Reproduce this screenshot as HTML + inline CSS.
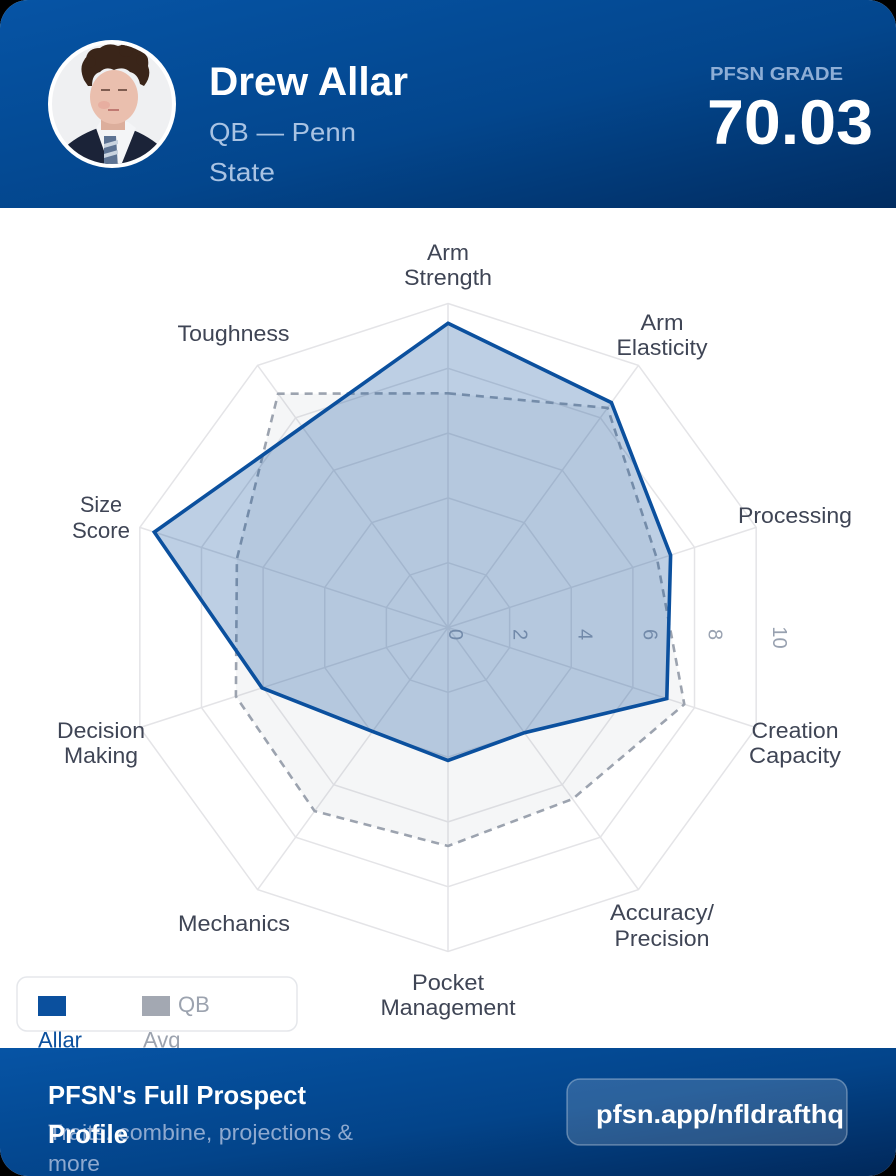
<!DOCTYPE html>
<html><head><meta charset="utf-8">
<style>
html,body{margin:0;padding:0;background:#000;}
body{width:896px;height:1176px;overflow:hidden;}
svg{display:block;}
text{font-family:"Liberation Sans",Arial,sans-serif;}
</style></head>
<body>
<svg width="896" height="1176" viewBox="0 0 896 1176" xmlns="http://www.w3.org/2000/svg">
<defs>
  <clipPath id="card"><rect x="0" y="0" width="896" height="1176" rx="28" ry="28"/></clipPath>
  <clipPath id="ph"><circle cx="112" cy="104" r="60"/></clipPath>
  <linearGradient id="hg" x1="0" y1="0" x2="1" y2="1">
    <stop offset="0" stop-color="#0654a5"/>
    <stop offset="0.55" stop-color="#03468d"/>
    <stop offset="1" stop-color="#012c60"/>
  </linearGradient>
  <linearGradient id="fg" x1="0" y1="0" x2="1" y2="1">
    <stop offset="0" stop-color="#0654a5"/>
    <stop offset="0.55" stop-color="#03448a"/>
    <stop offset="1" stop-color="#01285a"/>
  </linearGradient>
</defs>
<rect width="896" height="1176" fill="#000"/>
<g clip-path="url(#card)">
  <rect width="896" height="1176" fill="#ffffff"/>

  <!-- HEADER -->
  <rect x="0" y="0" width="896" height="208" fill="url(#hg)"/>
  <circle cx="112" cy="104" r="64" fill="#ffffff"/>
  <g clip-path="url(#ph)">
    <rect x="48" y="40" width="128" height="128" fill="#eff0f2"/>
    <!-- suit -->
    <path d="M56 168 L62 150 Q76 136 98 128 L128 128 Q150 136 164 150 L170 168 Z" fill="#1b2338"/>
    <!-- shirt -->
    <path d="M96 128 L110 168 L120 168 L136 128 L128 122 L100 122 Z" fill="#f4f5f7"/>
    <!-- tie -->
    <path d="M104 136 L116 136 L118 168 L104 168 Z" fill="#5d7393"/>
    <path d="M104 144 L118 140 L118 144 L104 148 Z M104 154 L118 150 L118 154 L104 158 Z" fill="#c9d3df"/>
    <!-- neck -->
    <rect x="101" y="110" width="24" height="20" fill="#dcae9c"/>
    <!-- face -->
    <ellipse cx="114" cy="97" rx="24" ry="27" fill="#eabfae"/>
    <ellipse cx="104" cy="105" rx="6" ry="4" fill="#e59a90" opacity="0.45"/>
    <path d="M101 90 L110 90 M118 90 L127 90" stroke="#5a3b30" stroke-width="1.5"/>
    <path d="M108 110 L119 110" stroke="#c07a72" stroke-width="2"/>
    <!-- hair -->
    <path d="M84 80 Q78 66 86 58 Q88 48 100 48 Q108 42 118 46 Q130 42 138 50 Q150 54 148 66 Q152 76 144 86 L140 84 Q138 74 130 72 Q124 66 114 70 Q106 66 100 72 Q92 74 92 86 L88 86 Z" fill="#3a2519"/>
    <circle cx="90" cy="62" r="6" fill="#3a2519"/>
    <circle cx="142" cy="60" r="6" fill="#3a2519"/>
    <circle cx="126" cy="50" r="7" fill="#3a2519"/>
  </g>

  <text x="209" y="95" font-size="40" font-weight="700" fill="#ffffff" textLength="199" lengthAdjust="spacingAndGlyphs">Drew Allar</text>
  <text x="209" y="141" font-size="26" fill="#a9c3e3" textLength="147" lengthAdjust="spacingAndGlyphs">QB — Penn</text>
  <text x="209" y="181" font-size="26" fill="#a9c3e3" textLength="66" lengthAdjust="spacingAndGlyphs">State</text>
  <text x="710" y="80" font-size="18" font-weight="700" fill="#8eaed6" textLength="133" lengthAdjust="spacingAndGlyphs">PFSN GRADE</text>
  <text x="707" y="144" font-size="63" font-weight="700" fill="#ffffff" textLength="166" lengthAdjust="spacingAndGlyphs">70.03</text>

  <!-- CHART GRID -->
  <g stroke="#e4e4e7" stroke-width="1.5" fill="none">
    <g transform="translate(448 627.5)">
      <polygon vector-effect="non-scaling-stroke" transform="scale(64.8)" points="0,-1 0.5878,-0.809 0.9511,-0.309 0.9511,0.309 0.5878,0.809 0,1 -0.5878,0.809 -0.9511,0.309 -0.9511,-0.309 -0.5878,-0.809"/>
      <polygon vector-effect="non-scaling-stroke" transform="scale(129.6)" points="0,-1 0.5878,-0.809 0.9511,-0.309 0.9511,0.309 0.5878,0.809 0,1 -0.5878,0.809 -0.9511,0.309 -0.9511,-0.309 -0.5878,-0.809"/>
      <polygon vector-effect="non-scaling-stroke" transform="scale(194.4)" points="0,-1 0.5878,-0.809 0.9511,-0.309 0.9511,0.309 0.5878,0.809 0,1 -0.5878,0.809 -0.9511,0.309 -0.9511,-0.309 -0.5878,-0.809"/>
      <polygon vector-effect="non-scaling-stroke" transform="scale(259.2)" points="0,-1 0.5878,-0.809 0.9511,-0.309 0.9511,0.309 0.5878,0.809 0,1 -0.5878,0.809 -0.9511,0.309 -0.9511,-0.309 -0.5878,-0.809"/>
      <polygon vector-effect="non-scaling-stroke" transform="scale(324)" points="0,-1 0.5878,-0.809 0.9511,-0.309 0.9511,0.309 0.5878,0.809 0,1 -0.5878,0.809 -0.9511,0.309 -0.9511,-0.309 -0.5878,-0.809"/>
    </g>
    <line x1="448" y1="627.5" x2="448" y2="303.5"/>
    <line x1="448" y1="627.5" x2="638.4" y2="365.4"/>
    <line x1="448" y1="627.5" x2="756.2" y2="527.4"/>
    <line x1="448" y1="627.5" x2="756.2" y2="727.6"/>
    <line x1="448" y1="627.5" x2="638.4" y2="889.6"/>
    <line x1="448" y1="627.5" x2="448" y2="951.5"/>
    <line x1="448" y1="627.5" x2="257.6" y2="889.6"/>
    <line x1="448" y1="627.5" x2="139.8" y2="727.6"/>
    <line x1="448" y1="627.5" x2="139.8" y2="527.4"/>
    <line x1="448" y1="627.5" x2="257.6" y2="365.4"/>
  </g>

  <!-- tick labels -->
  <g font-size="20" fill="#98a1b0" text-anchor="middle" dominant-baseline="central">
    <text transform="translate(455 634.5) rotate(90)">0</text>
    <text transform="translate(519.3 634.5) rotate(90)">2</text>
    <text transform="translate(584.5 634.5) rotate(90)">4</text>
    <text transform="translate(649.5 634.5) rotate(90)">6</text>
    <text transform="translate(714.3 634.5) rotate(90)">8</text>
    <text transform="translate(779 637.5) rotate(90)">10</text>
  </g>

  <!-- AVG dataset -->
  <polygon points="448,393.3 607.6,407.9 657.2,559.5 684.3,704.3 572.6,799 448,846 314.6,811.1 235.9,696.4 236.9,558.9 278.1,393.7"
    fill="rgba(156,163,175,0.1)" stroke="#9ca3af" stroke-width="2.6" stroke-dasharray="8 6" stroke-linejoin="round"/>

  <!-- ALLAR dataset -->
  <polygon points="448,323.3 611.4,402.6 670.6,555.2 666.8,698.6 524.4,732.7 448,760.5 372.5,731.4 262,687.9 154.3,532.1 302.3,426.9"
    fill="rgba(11,79,156,0.27)" stroke="#0b509e" stroke-width="3.6" stroke-linejoin="miter"/>

  <!-- axis labels -->
  <g font-size="22" fill="#3f4555" text-anchor="middle">
    <text x="448" y="260" textLength="42" lengthAdjust="spacingAndGlyphs">Arm</text>
    <text x="448" y="285" textLength="88" lengthAdjust="spacingAndGlyphs">Strength</text>
    <text x="662" y="330" textLength="43" lengthAdjust="spacingAndGlyphs">Arm</text>
    <text x="662" y="355" textLength="91" lengthAdjust="spacingAndGlyphs">Elasticity</text>
    <text x="795" y="523" textLength="114" lengthAdjust="spacingAndGlyphs">Processing</text>
    <text x="795" y="738" textLength="87" lengthAdjust="spacingAndGlyphs">Creation</text>
    <text x="795" y="763" textLength="92" lengthAdjust="spacingAndGlyphs">Capacity</text>
    <text x="662" y="920" textLength="104" lengthAdjust="spacingAndGlyphs">Accuracy/</text>
    <text x="662" y="946" textLength="95" lengthAdjust="spacingAndGlyphs">Precision</text>
    <text x="448" y="990" textLength="72" lengthAdjust="spacingAndGlyphs">Pocket</text>
    <text x="448" y="1015" textLength="135" lengthAdjust="spacingAndGlyphs">Management</text>
    <text x="234" y="931" textLength="112" lengthAdjust="spacingAndGlyphs">Mechanics</text>
    <text x="101" y="738" textLength="88" lengthAdjust="spacingAndGlyphs">Decision</text>
    <text x="101" y="763" textLength="74" lengthAdjust="spacingAndGlyphs">Making</text>
    <text x="101" y="512" textLength="42" lengthAdjust="spacingAndGlyphs">Size</text>
    <text x="101" y="538" textLength="58" lengthAdjust="spacingAndGlyphs">Score</text>
    <text x="233.5" y="341" textLength="112" lengthAdjust="spacingAndGlyphs">Toughness</text>
  </g>

  <!-- legend -->
  <rect x="17" y="977" width="280" height="54" rx="10" ry="10" fill="#ffffff" stroke="#e5e7eb" stroke-width="1.5"/>
  <rect x="38" y="996" width="28" height="20" fill="#0b509e"/>
  <rect x="142" y="996" width="28" height="20" fill="#a3a8b2"/>
  <text x="178" y="1012" font-size="22" fill="#9ca3af">QB</text>
  <text x="38" y="1047.5" font-size="22" fill="#0b509e">Allar</text>
  <text x="143" y="1047.5" font-size="22" fill="#9ca3af">Avg</text>

  <!-- FOOTER -->
  <rect x="0" y="1048" width="896" height="128" fill="url(#fg)"/>
  <text x="48" y="1104" font-size="26" font-weight="700" fill="#ffffff" textLength="258" lengthAdjust="spacingAndGlyphs">PFSN's Full Prospect</text>
  <text x="48" y="1140" font-size="22" fill="#8ea9cf" textLength="305" lengthAdjust="spacingAndGlyphs">Traits, combine, projections &amp;</text>
  <text x="48" y="1171" font-size="22" fill="#8ea9cf" textLength="52" lengthAdjust="spacingAndGlyphs">more</text>
  <text x="48" y="1143" font-size="26" font-weight="700" fill="#ffffff" textLength="80" lengthAdjust="spacingAndGlyphs">Profile</text>

  <rect x="567" y="1079" width="280" height="66" rx="13" ry="13" fill="rgba(255,255,255,0.16)" stroke="rgba(255,255,255,0.32)" stroke-width="1.5"/>
  <text x="596" y="1123" font-size="26" font-weight="700" fill="#ffffff" textLength="248" lengthAdjust="spacingAndGlyphs">pfsn.app/nfldrafthq</text>
</g>
</svg>
</body></html>
